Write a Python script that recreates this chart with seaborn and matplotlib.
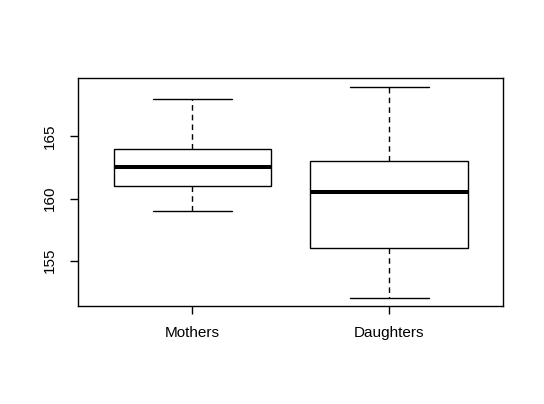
import matplotlib
matplotlib.use("Agg")
import matplotlib.pyplot as plt
import seaborn as sns
import pandas as pd

# five-number summaries (min, Q1, median, Q3, max)
groups = ["Mothers", "Daughters"]
mothers = [159, 161, 162.5, 164, 168]
daughters = [152, 156, 160.5, 163, 169]
yticks = [155, 160, 165]

df = pd.DataFrame({
    "group": [groups[0]] * len(mothers) + [groups[1]] * len(daughters),
    "height": mothers + daughters,
})

sns.set_theme(style="white")
plt.rcParams["font.family"] = ["Liberation Sans", "DejaVu Sans"]

fig = plt.figure(figsize=(5.44, 4.04), dpi=100)
ax = fig.add_axes([78.3 / 544, 1 - 306.3 / 404, 425 / 544, 228 / 404])

sns.boxplot(
    data=df, x="group", y="height", order=groups, ax=ax,
    width=0.8, whis=1.5, color="white", linecolor="black", linewidth=1.0,
    boxprops=dict(facecolor="white", edgecolor="black", linewidth=1.0),
    whiskerprops=dict(color="black", linestyle=(0, (4, 3)), linewidth=1.0),
    capprops=dict(color="black", linewidth=1.0),
    medianprops=dict(color="black", linewidth=2.9),
    showfliers=False,
)

ax.set_xlim(-0.58, 1.58)
ax.set_ylim(151.32, 169.68)
ax.set_yticks(yticks)
ax.set_yticklabels([str(t) for t in yticks], rotation=90, va="center")
ax.set_xlabel("")
ax.set_ylabel("")
for s in ax.spines.values():
    s.set_visible(True)
    s.set_color("black")
    s.set_linewidth(1.0)
ax.tick_params(axis="both", which="both", direction="out", length=5.8, width=1.0,
               color="black", labelsize=11, labelcolor="black")
ax.tick_params(axis="y", pad=9.5, left=True)
ax.tick_params(axis="x", pad=8.5, bottom=True)
ax.grid(False)

fig.savefig("out.png", dpi=100, facecolor="white")
